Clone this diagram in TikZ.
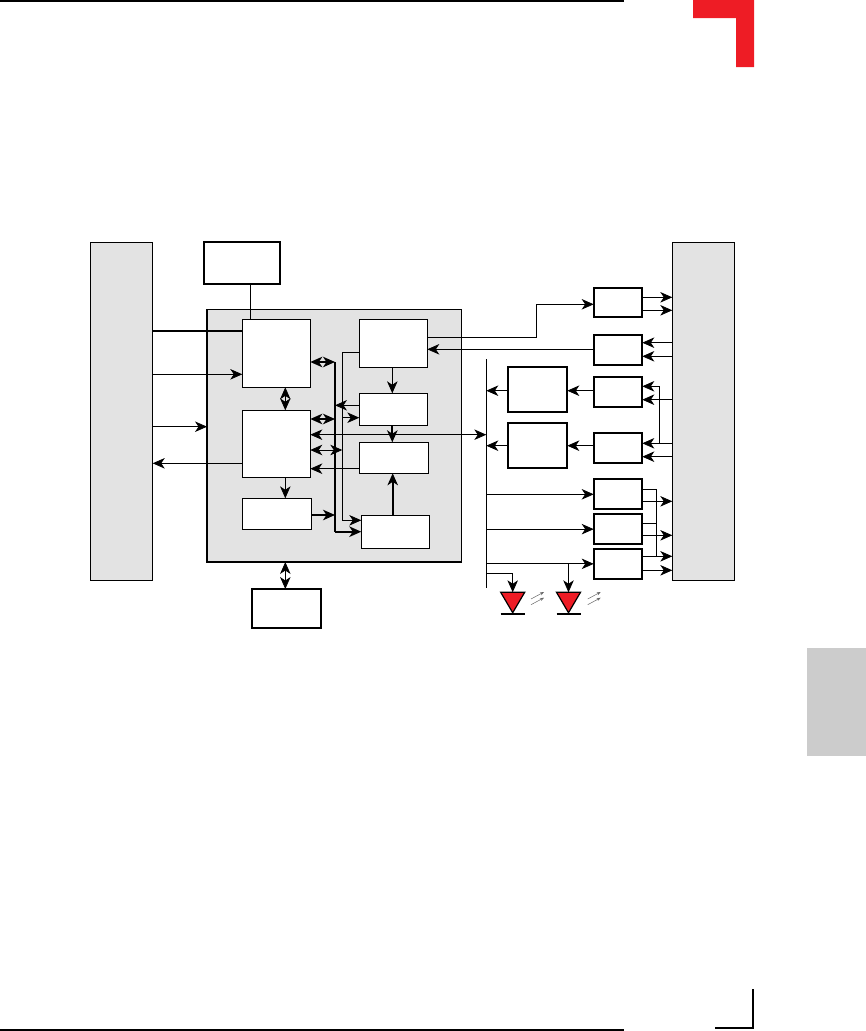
\documentclass[tikz,border=0pt]{standalone}
\usetikzlibrary{arrows.meta,calc}
\definecolor{panelgray}{HTML}{E3E3E3}
\definecolor{tabgray}{HTML}{CCCCCC}
\definecolor{markred}{HTML}{EE1C25}
\begin{document}
\begin{tikzpicture}[x=1pt,y=-1pt,>={Stealth[length=12pt,width=10.5pt,inset=3.5pt]}]
		\tikzstyle{panel} = [draw,line width=1,fill=panelgray,inner sep=0,outer sep=0]
		\tikzstyle{box} = [draw,line width=1,fill=white,inner sep=0,outer sep=0]
		\tikzstyle{heavybox} = [box,line width=1.7]
		\tikzstyle{wire} = [line width=0.8]
		\tikzstyle{heavywire} = [line width=1.8]
		\useasboundingbox (0,0) rectangle (866,1031);
		% page furniture
		\fill (0,0) rectangle (624,2);
		\fill (0,1029) rectangle (624,1031);
		\fill [markred] (693,0) -- (754,0) -- (754,67) -- (736,67) -- (736,18) -- (693,18) -- cycle;
		\draw [line width=1.6] (753,989) -- (753,1028) -- (715,1028);
		\fill [tabgray] (807,648) rectangle (866,756);
		% outer blocks
		\node [panel, minimum width=62.4, minimum height=337.7] (leftconn) at (121.5,411.15) {};
		\node [panel, minimum width=62.4, minimum height=337.7] (rightconn) at (703.5,411.15) {};
		\node [heavybox, minimum width=76.6, minimum height=42] (topbox) at (242,263) {};
		\node [panel, minimum width=254.3, minimum height=252.7] (chip) at (334.15,435.65) {};
		\draw [line width=1.7] (chip.north west) -- (chip.south west) -- (chip.south east);
		\node [heavybox, minimum width=69.6, minimum height=39] (membox) at (286.5,608.5) {};
		% inside the chip
		\node [box, minimum width=68, minimum height=68] (core) at (276.3,353.3) {};
		\node [box, minimum width=68, minimum height=67] (ctrl) at (276.3,443.8) {};
		\node [box, minimum width=69, minimum height=31] (sub) at (276.8,513.8) {};
		\node [box, minimum width=68, minimum height=48] (uart) at (393.3,343.3) {};
		\node [box, minimum width=68, minimum height=32] (regs) at (393.3,409.3) {};
		\node [box, minimum width=69, minimum height=31] (gate) at (393.8,457.8) {};
		\node [box, minimum width=68, minimum height=33] (timer) at (395.3,531.8) {};
		% right column
		\node [heavybox, minimum width=48.6, minimum height=29.6] (drvA) at (618,302.5) {};
		\node [heavybox, minimum width=48.6, minimum height=30] (drvB) at (618,349.7) {};
		\node [heavybox, minimum width=48.6, minimum height=30.3] (drvC) at (618,391.85) {};
		\node [heavybox, minimum width=48.6, minimum height=30.3] (drvD) at (618,447.85) {};
		\node [heavybox, minimum width=48.6, minimum height=30] (drvE) at (618,494.3) {};
		\node [heavybox, minimum width=48.6, minimum height=29.7] (drvF) at (618,529.15) {};
		\node [heavybox, minimum width=48.6, minimum height=30.3] (drvG) at (618,563.85) {};
		\node [heavybox, minimum width=59.6, minimum height=45.3] (isoA) at (537.5,389.35) {};
		\node [heavybox, minimum width=59.6, minimum height=45.6] (isoB) at (537.5,445.5) {};
		% bus lines
		\coordinate (bustop) at (486.3,359);
		\coordinate (busbot) at (486.3,587.7);
		\coordinate (maintop) at (335,362);
		\coordinate (mainbot) at (335,531.7);
		\coordinate (sigtop) at (342.3,352.3);
		\coordinate (sigbot) at (342.3,520.3);
		\coordinate (bend) at (536.7,304.3);
		\coordinate (ledA) at (512.7,592.3);
		\coordinate (ledB) at (568.5,592.3);
		\draw [wire] (bustop) -- (busbot);
		\draw [heavywire] (maintop) -- (mainbot);
		\draw [wire] (uart.west |- sigtop) -- (sigtop) -- (sigbot);
		% left side
		\draw [heavywire] (leftconn.east |- 0,330.7) -- (core.west |- 0,330.7);
		\draw [wire, ->] (leftconn.east |- 0,374.3) -- (core.west |- 0,374.3);
		\draw [wire, ->] (leftconn.east |- 0,426.7) -- (chip.west |- 0,426.7);
		\draw [wire, ->] (ctrl.west |- 0,463.3) -- (leftconn.east |- 0,463.3);
		\draw [wire] (topbox.south -| 250.3,0) -- (core.north -| 250.3,0);
		\draw [wire, <->] (core.south -| 285.3,0) -- (ctrl.north -| 285.3,0);
		\draw [wire, <->] (chip.south -| 285.3,0) -- (membox.north -| 285.3,0);
		\draw [wire, ->] (ctrl.south -| 285.3,0) -- (sub.north -| 285.3,0);
		% main bus
		\draw [heavywire, <->] (core.east |- maintop) -- (maintop);
		\draw [heavywire, <->] (ctrl.east |- 0,419) -- (maintop |- 0,419);
		\draw [wire, <->] (ctrl.east |- 0,450) -- (sigtop |- 0,450);
		\draw [wire, ->] (gate.west |- 0,468.7) -- (ctrl.east |- 0,468.7);
		\draw [heavywire, ->] (sub.east |- 0,515) -- (maintop |- 0,515);
		\draw [heavywire, ->] (mainbot) -- (timer.west |- mainbot);
		\draw [wire, ->] (regs.west |- 0,405.3) -- (maintop |- 0,405.3);
		\draw [wire, ->] (sigtop |- 0,417.7) -- (regs.west |- 0,417.7);
		\draw [wire, ->] (sigbot) -- (timer.west |- sigbot);
		\draw [wire, ->] (uart.south -| 392.3,0) -- (regs.north -| 392.3,0);
		\draw [heavywire, ->] (regs.south -| 392.3,0) -- (gate.north -| 392.3,0);
		\draw [heavywire, ->] (timer.north -| 392.7,0) -- (gate.south -| 392.7,0);
		\draw [wire, <->] (ctrl.east |- 0,434.7) -- (bustop |- 0,434.7);
		% to the right column
		\draw [wire, ->] (uart.east |- 0,337.3) -| (bend) -- (drvA.west |- bend);
		\draw [wire, ->] (drvB.west |- 0,349.3) -- (uart.east |- 0,349.3);
		\foreach \yy in {297.3,310.3}
			\draw [wire, ->] (drvA.east |- 0,\yy) -- (rightconn.west |- 0,\yy);
		\foreach \yy in {342.7,356.3}
			\draw [wire, ->] (rightconn.west |- 0,\yy) -- (drvB.east |- 0,\yy);
		\draw [wire, ->] (rightconn.west |- 0,399.7) -- (drvC.east |- 0,399.7);
		\draw [wire, ->] (rightconn.west |- 0,443.3) -- (drvD.east |- 0,443.3);
		\draw [wire, ->] (rightconn.west |- 0,456.7) -- (drvD.east |- 0,456.7);
		\draw [wire, ->] (659.3,443.3) -- (659.3,386.3) -- (drvC.east |- 0,386.3);
		\draw [wire, ->] (drvC.west |- 0,390.7) -- (isoA.east |- 0,390.7);
		\draw [wire, ->] (isoA.west |- 0,390.7) -- (bustop |- 0,390.7);
		\draw [wire, ->] (drvD.west |- 0,445.7) -- (isoB.east |- 0,445.7);
		\draw [wire, ->] (isoB.west |- 0,445.7) -- (bustop |- 0,445.7);
		\draw [wire, ->] (bustop |- drvE) -- (drvE.west);
		\draw [wire, ->] (bustop |- drvF) -- (drvF.west);
		\draw [wire, ->] (bustop |- drvG) -- (drvG.west);
		\draw [wire, ->] (bustop |- 0,573.7) -| (ledA);
		\draw [wire, ->] (ledB |- drvG) -- (ledB);
		\draw [wire] (drvE.east |- 0,489.3) -- (656.3,489.3) -- (656.3,556.3);
		\draw [wire] (drvF.east |- 0,523.3) -- (656.3,523.3);
		\foreach \yy in {501.3,535.3,556.3,570.3}
			\draw [wire, ->] (drvE.east |- 0,\yy) -- (rightconn.west |- 0,\yy);
		% leds
		\foreach \ledname/\gap in {ledA/18.3,ledB/19.2} {
			\draw [line width=1.2, fill=markred] (\ledname) ++(-12,0) -- ++(24,0) -- ++(-12,20.4) -- cycle;
			\draw [line width=1.6] ($(\ledname)+(-12,21.7)$) -- ++(24,0);
			\foreach \dy in {6.7,12.4}
				\draw [black!60, line width=0.5, -{Stealth[length=4pt,width=3pt]}] ($(\ledname)+(\gap,\dy)$) -- ++(13,-7);
		}
\end{tikzpicture}
\end{document}
